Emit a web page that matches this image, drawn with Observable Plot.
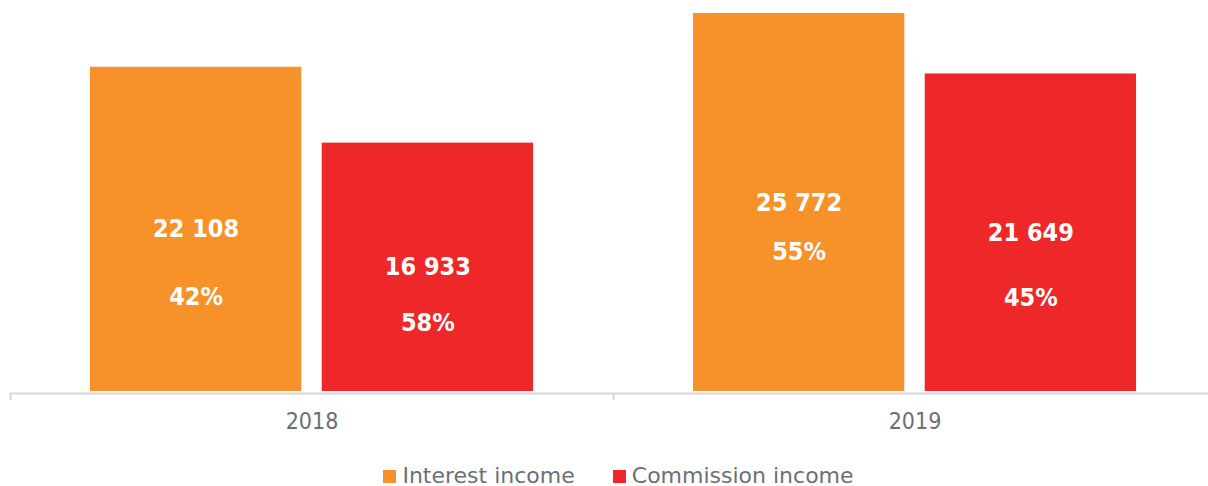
<!DOCTYPE html>
<html><head><meta charset="utf-8">
<script src="https://cdn.jsdelivr.net/npm/d3@7"></script>
<script src="https://cdn.jsdelivr.net/npm/@observablehq/plot@0.6"></script>
<style>
html,body{margin:0;padding:0;background:#fff;overflow:hidden;}
#chart{width:1208px;height:486px;position:relative;}
.legend{display:flex;justify-content:center;align-items:center;gap:38px;padding-left:29px;margin-top:27px;line-height:18px;height:18px;font-family:"DejaVu Sans",sans-serif;font-size:22px;color:#6b7075;}
.legend .sw{display:inline-block;width:13px;height:13px;margin-right:6px;}
.legend .item{display:flex;align-items:center;white-space:nowrap;}
svg{display:block;}
</style></head><body><div id="chart"></div>
<script>
const years = ["2018", "2019"];
const series = ["Interest income", "Commission income"];
const interestIncome = [22108, 25772];
const commissionIncome = [16933, 21649];
const interestShare = ["42%", "55%"];
const commissionShare = ["58%", "45%"];
const colors = ["#F7922A", "#EE2828"];

const rows = [];
years.forEach((year, i) => {
  rows.push({year, series: series[0], value: interestIncome[i], share: interestShare[i]});
  rows.push({year, series: series[1], value: commissionIncome[i], share: commissionShare[i]});
});

const fmt = d3.formatLocale({decimal: ".", thousands: " ", grouping: [3], currency: ["", ""]}).format(",");
const pctOffsets = [68, 56, 49, 65];
const labelFont = "'DejaVu Sans Condensed', 'Open Sans', sans-serif";

const chart = Plot.plot({
  width: 1208,
  height: 440,
  marginTop: 13,
  marginBottom: 49,
  marginLeft: 10,
  marginRight: -8,
  facet: {data: rows, x: "year"},
  fx: {domain: years, paddingInner: 0, paddingOuter: 0, label: null, tickSize: 0, tickPadding: 21},
  x: {domain: series, paddingInner: 0.088, paddingOuter: 0.345, round: false, axis: null},
  y: {axis: null},
  color: {domain: series, range: colors},
  style: {fontFamily: "'DejaVu Sans Condensed', 'DejaVu Sans'", fontSize: "23px", color: "#6b7075", background: "white"},
  marks: [
    Plot.barY(rows, {x: "series", y: "value", fill: "series"}),
    Plot.ruleY([0], {stroke: "#d6d6d6", strokeWidth: 2, dy: 2}),
    Plot.ruleX([series[0]], {x: d => d, y1: 0, y2: 0, insetTop: 2, insetBottom: -9, dx: -185.6, stroke: "#d6d6d6", strokeWidth: 2}),
    Plot.text(rows, {x: "series", y: d => d.value / 2, text: d => fmt(d.value), fill: "white", fontWeight: "bold", fontSize: 25, fontFamily: labelFont}),
    ...rows.map((r, i) => Plot.text(rows, {filter: d => d === r, x: "series", y: d => d.value / 2, text: "share", dy: pctOffsets[i], fill: "white", fontWeight: "bold", fontSize: 25, fontFamily: labelFont}))
  ]
});

const root = document.getElementById("chart");
root.appendChild(chart);
const legend = document.createElement("div");
legend.className = "legend";
series.forEach((s, i) => {
  const item = document.createElement("div");
  item.className = "item";
  const sw = document.createElement("span");
  sw.className = "sw";
  sw.style.background = colors[i];
  item.appendChild(sw);
  item.appendChild(document.createTextNode(s));
  legend.appendChild(item);
});
root.appendChild(legend);
</script>
</body></html>
